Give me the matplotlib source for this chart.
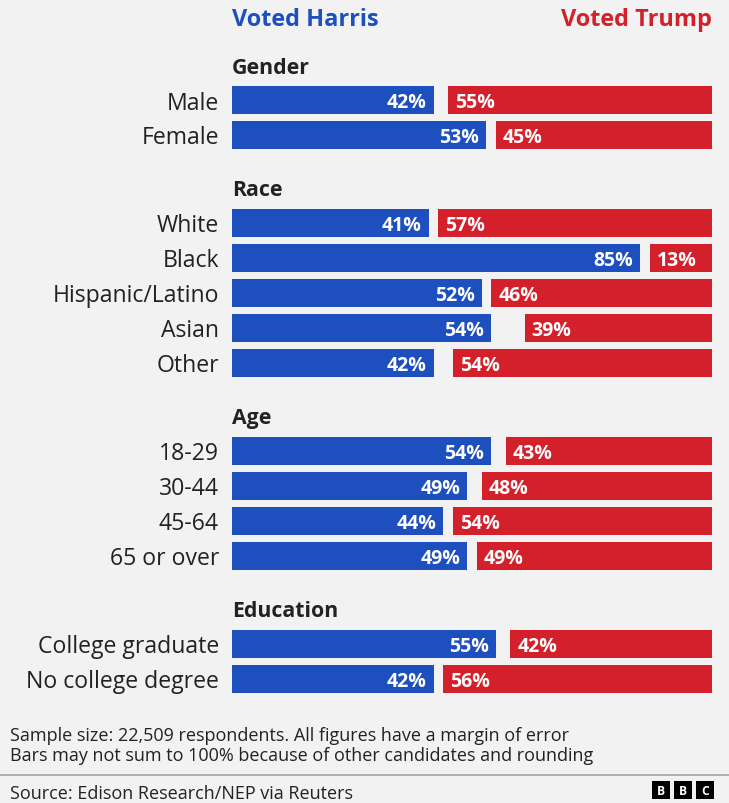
import matplotlib
matplotlib.use("Agg")
import matplotlib.pyplot as plt
from matplotlib.patches import Rectangle

# ---- data ----
groups = ["Gender", "Race", "Age", "Education"]
categories = [
    ["Male", "Female"],
    ["White", "Black", "Hispanic/Latino", "Asian", "Other"],
    ["18-29", "30-44", "45-64", "65 or over"],
    ["College graduate", "No college degree"],
]
harris = [[42, 53], [41, 85, 52, 54, 42], [54, 49, 44, 49], [55, 42]]
trump = [[55, 45], [57, 13, 46, 39, 54], [43, 48, 54, 49], [42, 56]]

title_left = "Voted Harris"
title_right = "Voted Trump"
note_lines = [
    "Sample size: 22,509 respondents. All figures have a margin of error",
    "Bars may not sum to 100% because of other candidates and rounding",
]
source = "Source: Edison Research/NEP via Reuters"

# ---- style ----
BLUE = "#1d4fbf"
RED = "#d4202a"
BG = "#f2f2f2"
TXT = "#222222"
REG = ["Open Sans", "DejaVu Sans"]
BOLD = ["Open Sans", "DejaVu Sans"]
plt.rcParams["font.family"] = REG

W, H = 729, 804
PT = 0.72  # px -> pt at 100 dpi

fig = plt.figure(figsize=(W / 100, H / 100), dpi=100, facecolor=BG)
ax0 = fig.add_axes([0, 0, 1, 1])
ax0.set_xlim(0, W)
ax0.set_ylim(H, 0)
ax0.axis("off")
ax0.set_facecolor(BG)

bx0, bw = 232, 480
axb = fig.add_axes([bx0 / W, 0, bw / W, 1])
axb.set_xlim(0, 100)
axb.set_ylim(H, 0)
axb.axis("off")
axb.patch.set_alpha(0)

# titles
ax0.text(bx0, 26.5, title_left, ha="left", va="baseline", color=BLUE,
         fontsize=23.5 * PT, fontweight="bold", family=BOLD)
ax0.text(bx0 + bw, 26.5, title_right, ha="right", va="baseline", color=RED,
         fontsize=23.5 * PT, fontweight="bold", family=BOLD)

y = 101
step = 35
bar_h = 28
for g, cats, hs, ts in zip(groups, categories, harris, trump):
    ax0.text(bx0, y - 27.5, g, ha="left", va="baseline", color=TXT,
             fontsize=21.3 * PT, fontweight="bold", family=BOLD)
    for i, (c, h, t) in enumerate(zip(cats, hs, ts)):
        yc = y + i * step
        axb.barh(yc, h, left=0, height=bar_h, color=BLUE, linewidth=0)
        axb.barh(yc, t, left=100 - t, height=bar_h, color=RED, linewidth=0)
        ax0.text(219, yc + 8.5, c, ha="right", va="baseline", color=TXT,
                 fontsize=23 * PT)
        axb.annotate(f"{h}%", xy=(h, yc + 7), xytext=(-7, 0),
                     textcoords="offset pixels", ha="right", va="baseline",
                     color="white", fontsize=19.5 * PT, fontweight="bold",
                     family=BOLD)
        axb.annotate(f"{t}%", xy=(100 - t, yc + 7), xytext=(7, 0),
                     textcoords="offset pixels", ha="left", va="baseline",
                     color="white", fontsize=19.5 * PT, fontweight="bold",
                     family=BOLD)
    y = y + (len(cats) - 1) * step + 52 + 36

# notes
ax0.text(10, 741, note_lines[0], ha="left", va="baseline", color=TXT,
         fontsize=18 * PT)
ax0.text(10, 761, note_lines[1], ha="left", va="baseline", color=TXT,
         fontsize=18 * PT)
ax0.plot([0, W], [776, 776], color="#9a9a9a", linewidth=1.1,
         solid_capstyle="butt")
ax0.text(10, 799, source, ha="left", va="baseline", color=TXT,
         fontsize=18 * PT)

# BBC logo
for k, letter in enumerate("BBC"):
    x = 652 + k * 22
    ax0.add_patch(Rectangle((x, 782), 18, 18, facecolor="black",
                            edgecolor="none"))
    ax0.text(x + 9, 791.5, letter, ha="center", va="center", color="white",
             fontsize=12 * PT, fontweight="bold", family=BOLD)

fig.savefig("out.png", dpi=100, facecolor=BG)
